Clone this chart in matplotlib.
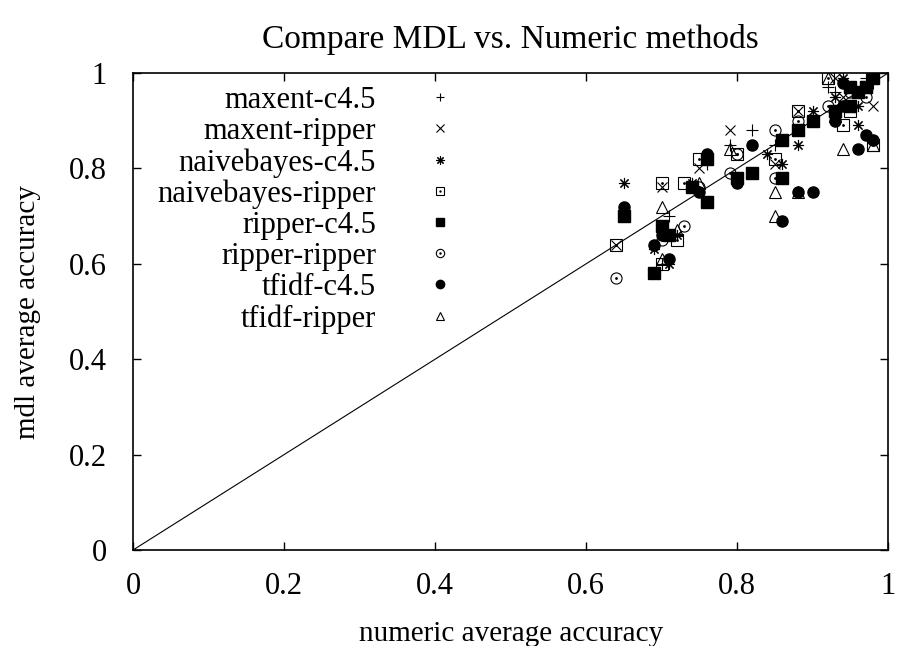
import matplotlib
matplotlib.use('Agg')
import matplotlib.pyplot as plt

plt.rcParams['font.family'] = ['Liberation Serif', 'DejaVu Serif']

# data: (numeric accuracy, mdl accuracy) per method
maxent_c45_x = [0.82, 0.76, 0.71, 0.97, 0.93, 0.95, 0.98, 0.86, 0.79, 0.70, 0.85, 0.92]
maxent_c45_y = [0.88, 0.81, 0.70, 0.99, 0.96, 0.97, 0.98, 0.86, 0.85, 0.60, 0.85, 0.97]

maxent_rip_x = [0.79, 0.70, 0.75, 0.85, 0.93, 0.95, 0.98, 0.64, 0.70, 0.88, 0.97, 0.94]
maxent_rip_y = [0.88, 0.76, 0.80, 0.81, 0.99, 0.93, 0.93, 0.64, 0.66, 0.92, 0.97, 0.95]

nb_c45_x = [0.65, 0.76, 0.84, 0.86, 0.88, 0.96, 0.96, 0.93, 0.94, 0.74, 0.71, 0.69, 0.72, 0.90]
nb_c45_y = [0.77, 0.83, 0.83, 0.81, 0.85, 0.89, 0.93, 0.95, 0.99, 0.77, 0.60, 0.63, 0.66, 0.92]

nb_rip_x = [0.70, 0.75, 0.64, 0.70, 0.72, 0.80, 0.85, 0.88, 0.92, 0.95, 0.97, 0.98, 0.94, 0.73]
nb_rip_y = [0.77, 0.82, 0.64, 0.60, 0.65, 0.83, 0.82, 0.92, 0.99, 0.92, 0.97, 0.85, 0.89, 0.77]

rip_c45_x = [0.65, 0.69, 0.70, 0.71, 0.74, 0.76, 0.76, 0.80, 0.82, 0.86, 0.86, 0.88,
             0.90, 0.93, 0.95, 0.96, 0.97, 0.98, 0.95]
rip_c45_y = [0.70, 0.58, 0.68, 0.66, 0.76, 0.73, 0.82, 0.78, 0.79, 0.78, 0.86, 0.88,
             0.90, 0.92, 0.93, 0.96, 0.97, 0.99, 0.97]

rip_rip_x = [0.64, 0.70, 0.73, 0.75, 0.79, 0.80, 0.85, 0.85, 0.88, 0.92, 0.93, 0.95, 0.97]
rip_rip_y = [0.57, 0.65, 0.68, 0.76, 0.79, 0.83, 0.88, 0.78, 0.90, 0.93, 0.91, 0.96, 0.95]

tf_c45_x = [0.65, 0.69, 0.70, 0.71, 0.76, 0.80, 0.82, 0.86, 0.88, 0.90, 0.93, 0.94,
            0.96, 0.97, 0.98, 0.94, 0.75]
tf_c45_y = [0.72, 0.64, 0.66, 0.61, 0.83, 0.77, 0.85, 0.69, 0.75, 0.75, 0.90, 0.98,
            0.84, 0.87, 0.86, 0.93, 0.75]

tf_rip_x = [0.70, 0.70, 0.72, 0.75, 0.79, 0.85, 0.85, 0.88, 0.92, 0.94, 0.95, 0.98, 0.93]
tf_rip_y = [0.72, 0.61, 0.67, 0.77, 0.84, 0.75, 0.70, 0.75, 0.99, 0.84, 0.93, 0.85, 0.91]

fig = plt.figure(figsize=(8.99, 6.46), dpi=100)
ax = fig.add_axes([0.148, 0.1486, 0.840, 0.7384])

ms = 8
handles = []

h = ax.plot(maxent_c45_x, maxent_c45_y, ls='none', marker='+', ms=ms, mew=0.8, color='black')[0]
handles.append(h)
h = ax.plot(maxent_rip_x, maxent_rip_y, ls='none', marker='x', ms=ms - 1, mew=0.8, color='black')[0]
handles.append(h)
h = ax.plot(nb_c45_x, nb_c45_y, ls='none', marker=(8, 2, 0), ms=ms, mew=0.8, color='black')[0]
handles.append(h)
h1 = ax.plot(nb_rip_x, nb_rip_y, ls='none', marker='s', ms=ms, mew=0.8, mfc='none', color='black')[0]
h2 = ax.plot(nb_rip_x, nb_rip_y, ls='none', marker='.', ms=2, color='black')[0]
handles.append((h1, h2))
h = ax.plot(rip_c45_x, rip_c45_y, ls='none', marker='s', ms=ms, color='black')[0]
handles.append(h)
h1 = ax.plot(rip_rip_x, rip_rip_y, ls='none', marker='o', ms=ms, mew=0.8, mfc='none', color='black')[0]
h2 = ax.plot(rip_rip_x, rip_rip_y, ls='none', marker='.', ms=2, color='black')[0]
handles.append((h1, h2))
h = ax.plot(tf_c45_x, tf_c45_y, ls='none', marker='o', ms=ms, color='black')[0]
handles.append(h)
h = ax.plot(tf_rip_x, tf_rip_y, ls='none', marker='^', ms=ms, mew=0.8, mfc='none', color='black')[0]
handles.append(h)

labels = ['maxent-c4.5', 'maxent-ripper', 'naivebayes-c4.5', 'naivebayes-ripper',
          'ripper-c4.5', 'ripper-ripper', 'tfidf-c4.5', 'tfidf-ripper']

# diagonal y = x
ax.plot([0, 1], [0, 1], color='black', lw=0.8)

ax.set_xlim(0, 1)
ax.set_ylim(0, 1)
ax.set_xticks([0, 0.2, 0.4, 0.6, 0.8, 1])
ax.set_yticks([0, 0.2, 0.4, 0.6, 0.8, 1])
ax.set_xticklabels(['0', '0.2', '0.4', '0.6', '0.8', '1'])
ax.set_yticklabels(['0', '0.2', '0.4', '0.6', '0.8', '1'])
ax.tick_params(direction='in', top=True, right=True, length=6, width=1, labelsize=22)
ax.tick_params(axis='x', pad=16)
ax.tick_params(axis='y', pad=19)
for s in ax.spines.values():
    s.set_linewidth(1.2)

ax.set_xlabel('numeric average accuracy', fontsize=21, labelpad=14)
ax.set_ylabel('mdl average accuracy', fontsize=21, labelpad=20)
ax.set_title('Compare MDL vs. Numeric methods', fontsize=24, pad=18)

leg = ax.legend(handles, labels, loc='upper left', bbox_to_anchor=(-0.004, 1.03),
                frameon=False, markerfirst=False, fontsize=22, handlelength=1.2,
                handletextpad=1.5, labelspacing=0.065, markerscale=0.75)
for t in leg.get_texts():
    t.set_ha('right')
leg._legend_box.align = 'right'

fig.savefig('out.png', dpi=100)
